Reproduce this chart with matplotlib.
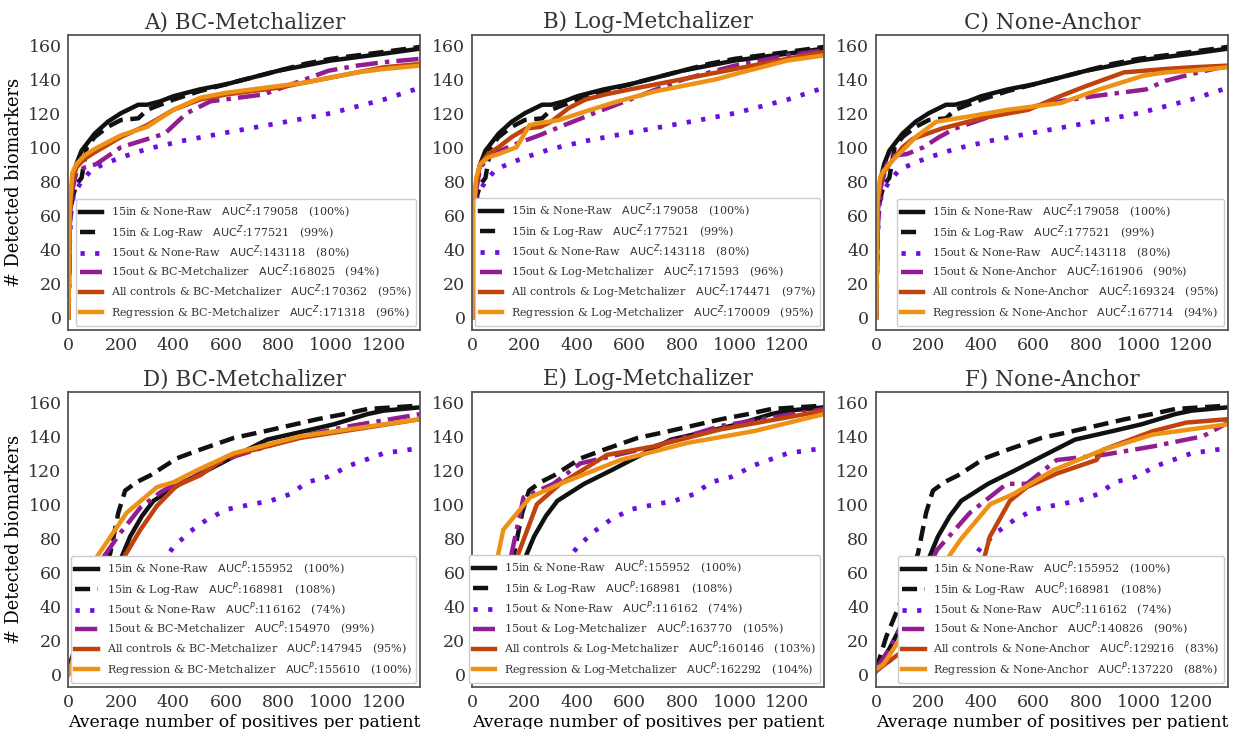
import matplotlib
matplotlib.use("Agg")
import matplotlib.pyplot as plt

# ---- data ----
# top row (AUC^Z), series shared by all three panels
x_in_none_z = [0, 5, 15, 30, 50, 100, 150, 200, 266, 300, 350, 400, 500, 600, 700, 800, 900, 1000, 1100, 1200, 1340]
y_in_none_z = [0, 60, 80, 90, 98, 108, 115, 120, 125, 125, 127, 130, 134, 137, 141, 145, 148, 151, 153, 155, 158]
x_in_log_z = [0, 5, 15, 30, 50, 70, 100, 150, 200, 266, 300, 350, 400, 500, 600, 700, 800, 900, 1000, 1100, 1200, 1340]
y_in_log_z = [0, 55, 70, 78, 82, 100, 106, 112, 116, 117, 122, 125, 128, 133, 137, 141, 145, 149, 152, 154, 156, 159]
x_out_none_z = [0, 5, 10, 20, 50, 90, 150, 200, 300, 442, 615, 866, 1000, 1100, 1200, 1340]
y_out_none_z = [0, 45, 62, 72, 80, 87, 91, 94, 99, 104, 109, 116, 120, 124, 128, 135]

# A) BC-Metchalizer
x_a_out = [0, 5, 15, 30, 60, 105, 200, 367, 450, 541, 742, 850, 991, 1100, 1200, 1340]
y_a_out = [0, 55, 75, 85, 88, 90, 100, 108, 120, 127, 131, 137, 145, 148, 150, 152]
x_a_all = [0, 5, 15, 30, 60, 100, 200, 300, 400, 500, 600, 700, 800, 900, 1000, 1100, 1200, 1340]
y_a_all = [0, 60, 80, 88, 93, 97, 106, 113, 122, 128, 131, 133, 135, 138, 141, 144, 147, 149]
x_a_reg = [0, 5, 15, 30, 60, 100, 200, 300, 400, 500, 600, 700, 800, 900, 1000, 1100, 1200, 1340]
y_a_reg = [0, 65, 85, 90, 95, 99, 107, 112, 122, 129, 132, 134, 136, 138, 141, 144, 146, 148]

# B) Log-Metchalizer
x_b_out = [0, 5, 15, 30, 60, 94, 150, 255, 350, 480, 600, 700, 806, 1000, 1100, 1200, 1340]
y_b_out = [0, 50, 75, 88, 94, 97, 101, 107, 113, 121, 128, 134, 140, 148, 151, 154, 157]
x_b_all = [0, 5, 15, 30, 60, 100, 150, 205, 260, 300, 367, 430, 505, 600, 700, 800, 900, 1000, 1100, 1200, 1340]
y_b_all = [0, 60, 80, 90, 96, 100, 106, 111, 112, 115, 123, 128, 131, 134, 137, 140, 143, 146, 149, 152, 156]
x_b_reg = [0, 5, 15, 30, 60, 100, 168, 218, 250, 330, 450, 555, 700, 800, 930, 1000, 1100, 1200, 1340]
y_b_reg = [0, 62, 82, 90, 94, 96, 100, 113, 114, 116, 122, 127, 133, 136, 140, 143, 147, 151, 154]

# C) None-Anchor
x_c_out = [0, 5, 15, 40, 60, 117, 180, 240, 300, 453, 600, 700, 828, 1028, 1100, 1200, 1340]
y_c_out = [0, 50, 75, 90, 95, 96, 100, 106, 111, 119, 124, 127, 130, 134, 139, 143, 148]
x_c_all = [0, 5, 15, 27, 60, 100, 140, 250, 400, 579, 700, 800, 943, 1100, 1200, 1340]
y_c_all = [0, 65, 80, 85, 92, 100, 105, 111, 117, 122, 130, 136, 144, 146, 147, 148]
x_c_reg = [0, 5, 15, 27, 60, 100, 150, 229, 350, 500, 600, 703, 850, 1016, 1100, 1200, 1340]
y_c_reg = [0, 68, 82, 86, 92, 98, 106, 115, 118, 122, 124, 126, 134, 142, 144, 145, 147]

# bottom row (AUC^P), series shared by all three panels
x_in_none_p = [0, 50, 100, 150, 172, 200, 235, 280, 324, 426, 530, 630, 757, 900, 1011, 1139, 1200, 1340]
y_in_none_p = [2, 15, 30, 47, 55, 68, 81, 93, 102, 112, 120, 128, 138, 143, 147, 153, 155, 157]
x_in_log_p = [0, 38, 100, 159, 190, 216, 260, 312, 413, 500, 630, 750, 948, 1050, 1139, 1340]
y_in_log_p = [3, 22, 45, 71, 95, 108, 113, 117, 127, 132, 139, 143, 150, 153, 156, 158]
x_out_none_p = [0, 50, 100, 150, 200, 250, 300, 337, 362, 401, 464, 528, 604, 700, 770, 846, 910, 986, 1075, 1202, 1340]
y_out_none_p = [2, 8, 12, 18, 25, 33, 44, 55, 67, 75, 84, 91, 97, 100, 102, 106, 113, 116, 123, 130, 133]

# D) BC-Metchalizer
x_d_out = [0, 50, 100, 134, 197, 274, 350, 502, 630, 884, 1075, 1340]
y_d_out = [0, 20, 50, 69, 83, 98, 107, 120, 128, 140, 146, 153]
x_d_all = [0, 100, 150, 197, 274, 337, 413, 502, 604, 884, 1340]
y_d_all = [0, 25, 45, 65, 85, 99, 111, 117, 128, 139, 150]
x_d_reg = [0, 50, 90, 108, 222, 337, 401, 490, 630, 884, 1340]
y_d_reg = [0, 25, 55, 69, 95, 110, 113, 120, 130, 140, 150]

# E) Log-Metchalizer
x_e_out = [0, 50, 100, 144, 195, 309, 411, 691, 945, 1340]
y_e_out = [0, 20, 45, 67, 104, 112, 124, 134, 146, 156]
x_e_all = [0, 50, 100, 156, 246, 335, 513, 691, 945, 1340]
y_e_all = [0, 18, 38, 63, 100, 112, 129, 134, 144, 155]
x_e_reg = [0, 10, 80, 118, 220, 335, 564, 818, 1073, 1340]
y_e_reg = [0, 14, 57, 85, 104, 112, 126, 136, 143, 153]

# F) None-Anchor
x_f_out = [0, 50, 100, 231, 357, 497, 573, 687, 864, 1054, 1245, 1340]
y_f_out = [3, 15, 30, 73, 95, 112, 112, 126, 129, 134, 140, 148]
x_f_all = [0, 104, 300, 395, 433, 509, 573, 687, 839, 864, 1054, 1181, 1340]
y_f_all = [2, 14, 35, 59, 81, 102, 110, 118, 126, 132, 143, 148, 150]
x_f_reg = [0, 28, 150, 231, 320, 434, 523, 674, 864, 1054, 1340]
y_f_reg = [3, 6, 35, 59, 79, 100, 106, 120, 132, 141, 147]

names_top = ["15in & None-Raw", "15in & Log-Raw", "15out & None-Raw"]
auc_top = [179058, 177521, 143118]
pct_top = [100, 99, 80]
names_bot = ["15in & None-Raw", "15in & Log-Raw", "15out & None-Raw"]
auc_bot = [155952, 168981, 116162]
pct_bot = [100, 108, 74]

titles = ["A) BC-Metchalizer", "B) Log-Metchalizer", "C) None-Anchor",
          "D) BC-Metchalizer", "E) Log-Metchalizer", "F) None-Anchor"]
methods = ["BC-Metchalizer", "Log-Metchalizer", "None-Anchor"]
auc_panel = [[168025, 170362, 171318], [171593, 174471, 170009], [161906, 169324, 167714],
             [154970, 147945, 155610], [163770, 160146, 162292], [140826, 129216, 137220]]
pct_panel = [[94, 95, 96], [96, 97, 95], [90, 95, 94],
             [99, 95, 100], [105, 103, 104], [90, 83, 88]]

panel_xy = [
    [(x_a_out, y_a_out), (x_a_all, y_a_all), (x_a_reg, y_a_reg)],
    [(x_b_out, y_b_out), (x_b_all, y_b_all), (x_b_reg, y_b_reg)],
    [(x_c_out, y_c_out), (x_c_all, y_c_all), (x_c_reg, y_c_reg)],
    [(x_d_out, y_d_out), (x_d_all, y_d_all), (x_d_reg, y_d_reg)],
    [(x_e_out, y_e_out), (x_e_all, y_e_all), (x_e_reg, y_e_reg)],
    [(x_f_out, y_f_out), (x_f_all, y_f_all), (x_f_reg, y_f_reg)],
]
shared_top = [(x_in_none_z, y_in_none_z), (x_in_log_z, y_in_log_z), (x_out_none_z, y_out_none_z)]
shared_bot = [(x_in_none_p, y_in_none_p), (x_in_log_p, y_in_log_p), (x_out_none_p, y_out_none_p)]

# ---- styling ----
plt.rcParams["font.family"] = "DejaVu Serif"
plt.rcParams["mathtext.fontset"] = "dejavusans"
plt.rcParams["text.color"] = "#333333"
plt.rcParams["xtick.color"] = "#333333"
plt.rcParams["ytick.color"] = "#333333"

styles = [
    dict(color="#111111", ls="-", lw=3.2),
    dict(color="#111111", ls=(0, (3.4, 1.7)), lw=3.2),
    dict(color="#6a0fe0", ls=(0, (0.9, 2.2)), lw=3.4),
    dict(color="#921c92", ls=(0, (5, 1.6, 1, 1.6)), lw=3.2),
    dict(color="#c0420c", ls="-", lw=3.2),
    dict(color="#ee9216", ls="-", lw=3.2),
]

fig, axes = plt.subplots(2, 3, figsize=(12.33, 7.29), dpi=100)
plt.subplots_adjust(left=0.0555, right=0.996, bottom=0.0576, top=0.952, wspace=0.148, hspace=0.21)

for i, ax in enumerate(axes.flat):
    top = i < 3
    sup = "Z" if top else "P"
    shared = shared_top if top else shared_bot
    snames = names_top if top else names_bot
    sauc = auc_top if top else auc_bot
    spct = pct_top if top else pct_bot
    meth = methods[i % 3]
    lab_names = snames + ["15out & " + meth, "All controls & " + meth, "Regression & " + meth]
    aucs = sauc + auc_panel[i]
    pcts = spct + pct_panel[i]
    curves = shared + panel_xy[i]
    for k, (xs, ys) in enumerate(curves):
        label = "%s   $\\mathrm{AUC}^{%s}$:%d   (%d%%)" % (lab_names[k], sup, aucs[k], pcts[k])
        ax.plot(xs, ys, label=label, **styles[k])
    ax.set_xlim(0, 1340)
    ax.set_ylim(-7.5, 166)
    ax.set_xticks(range(0, 1201, 200))
    ax.set_yticks(range(0, 161, 20))
    ax.tick_params(labelsize=12.5, length=0, pad=5)
    for sp in ax.spines.values():
        sp.set_color("#555555")
        sp.set_linewidth(1.3)
    ax.set_title(titles[i], fontsize=15.5, pad=5)
    if i % 3 == 0:
        ax.set_ylabel("# Detected biomarkers", fontsize=12.8, labelpad=4)
    if not top:
        ax.set_xlabel("Average number of positives per patient", fontsize=12.4, labelpad=2)
    leg = ax.legend(loc="lower right", fontsize=8.0, handlelength=2.0, labelspacing=0.16,
                    borderaxespad=0.35, borderpad=0.4, handletextpad=0.8,
                    framealpha=1, fancybox=True)
    leg.get_frame().set_edgecolor("#cccccc")

plt.savefig("out.png", dpi=100)
